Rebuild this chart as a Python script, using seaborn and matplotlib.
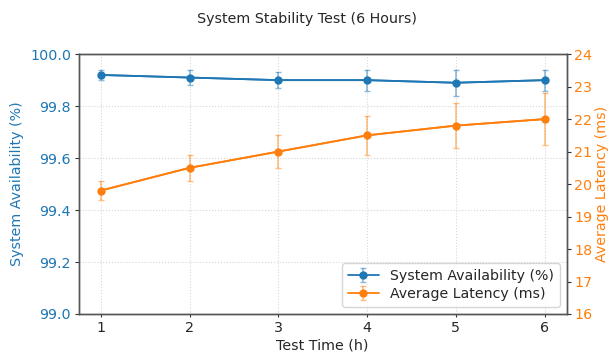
import matplotlib
matplotlib.use("Agg")
import matplotlib.pyplot as plt
import seaborn as sns
import pandas as pd

hours = [1, 2, 3, 4, 5, 6]
availability = [99.92, 99.91, 99.90, 99.90, 99.89, 99.90]
availability_err = [0.02, 0.03, 0.03, 0.04, 0.05, 0.04]
latency = [19.8, 20.5, 21.0, 21.5, 21.8, 22.0]
latency_err = [0.3, 0.4, 0.5, 0.6, 0.7, 0.8]

sns.set_style("white")
plt.rcParams['font.family'] = ['DejaVu Sans']

df = pd.DataFrame({"hours": hours, "availability": availability, "latency": latency})

blue = "#1f77b4"
orange = "#ff7f0e"
FS = 10.3

fig, ax1 = plt.subplots(figsize=(6.14, 3.54), dpi=100)
ax2 = ax1.twinx()

sns.lineplot(data=df, x="hours", y="availability", ax=ax1, color=blue, marker="o",
             markersize=5, markeredgewidth=0, linewidth=1.3, legend=False)
e1 = ax1.errorbar(hours, availability, yerr=availability_err, fmt="o-", color=blue,
                  markersize=5, linewidth=1.3, ecolor=blue, elinewidth=1.2, capsize=2,
                  label="System Availability (%)")
for c in list(e1[1]) + list(e1[2]):
    c.set_alpha(0.5)

sns.lineplot(data=df, x="hours", y="latency", ax=ax2, color=orange, marker="o",
             markersize=5, markeredgewidth=0, linewidth=1.3, legend=False)
e2 = ax2.errorbar(hours, latency, yerr=latency_err, fmt="o-", color=orange,
                  markersize=5, linewidth=1.3, ecolor=orange, elinewidth=1.2, capsize=2,
                  label="Average Latency (ms)")
for c in list(e2[1]) + list(e2[2]):
    c.set_alpha(0.5)

ax1.set_ylim(99.0, 100.0)
ax2.set_ylim(16, 24)
ax1.set_xlim(0.75, 6.25)
ax1.set_xticks(hours)
yt = [99.0, 99.2, 99.4, 99.6, 99.8, 100.0]
ax1.set_yticks(yt)
ax1.set_yticklabels([f"{v:.1f}" for v in yt])
ax2.set_yticks(range(16, 25))

ax1.set_xlabel("Test Time (h)", fontsize=FS, labelpad=2.5)
ax1.set_ylabel("System Availability (%)", color=blue, fontsize=FS, labelpad=4)
ax2.set_ylabel("Average Latency (ms)", color=orange, fontsize=FS, labelpad=2)
ax1.tick_params(axis="y", labelcolor=blue, labelsize=FS, left=True, length=3,
                width=0.8, color="#333333", pad=2.5)
ax1.tick_params(axis="x", labelsize=FS, bottom=True, length=2,
                width=0.8, color="#333333", pad=3)
ax2.tick_params(axis="y", labelcolor=orange, labelsize=FS, right=True, length=3,
                width=0.8, color="#333333", pad=2.5)

ax1.grid(True, linestyle=":", linewidth=0.8, color="#cccccc", alpha=0.8)
ax2.grid(False)

for ax in (ax1, ax2):
    for s in ax.spines.values():
        s.set_color("#555555")
        s.set_linewidth(1.0)

fig.suptitle("System Stability Test (6 Hours)", fontsize=FS, y=0.965)

h1, l1 = ax1.get_legend_handles_labels()
h2, l2 = ax2.get_legend_handles_labels()
ax1.legend(h1 + h2, l1 + l2, loc="lower right", fontsize=10.2, frameon=True,
           handlelength=2.2, borderpad=0.4, labelspacing=0.3)

fig.subplots_adjust(left=0.128, right=0.923, top=0.847, bottom=0.113)
fig.savefig("out.png", dpi=100)
